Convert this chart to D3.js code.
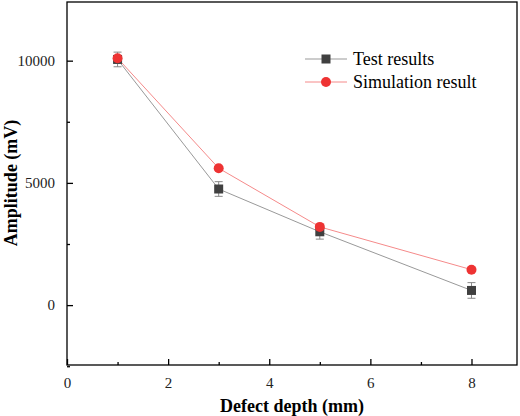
<!DOCTYPE html>
<html><head><meta charset="utf-8">
<script src="https://cdn.jsdelivr.net/npm/d3@7"></script>
<style>body{margin:0;background:#fff}text{font-family:"Liberation Serif",serif}</style>
</head><body><div id="chart"></div>
<script>
const depths = [1, 3, 5, 8];
const testValues = [10050, 4750, 3000, 600];
const testErrors = [300, 300, 300, 320];
const simValues = [10100, 5600, 3200, 1450];
const xTicks = [0, 2, 4, 6, 8];
const yTicks = [0, 5000, 10000];

const W = 520, H = 416;
const margin = { top: 2, right: 3, bottom: 51, left: 67 };
const width = W - margin.left - margin.right, height = H - margin.top - margin.bottom;

const svg = d3.select("#chart").append("svg").attr("width", W).attr("height", H)
  .append("g").attr("transform", `translate(${margin.left},${margin.top})`);

const x = d3.scaleLinear().domain([0, 8.9]).range([0, width]);
const y = d3.scaleLinear().domain([-2450, 12400]).range([height, 0]);

// frame
svg.append("rect").attr("width", width).attr("height", height)
  .attr("fill", "none").attr("stroke", "#000").attr("stroke-width", 1.3);

// axes, ticks inward
svg.append("g").attr("transform", `translate(0,${height})`)
  .call(d3.axisBottom(x).tickValues(xTicks).tickSize(-6).tickPadding(12).tickFormat(d3.format("d")));
svg.append("g").attr("transform", `translate(0,${height})`)
  .call(d3.axisBottom(x).tickValues([1, 3, 5, 7]).tickSize(-3).tickFormat(""));
svg.append("g")
  .call(d3.axisLeft(y).tickValues(yTicks).tickSize(-6).tickPadding(12).tickFormat(d3.format("d")));
svg.append("g").call(d3.axisLeft(y).tickValues([-2500, 2500, 7500]).tickSize(-3).tickFormat(""));
svg.selectAll(".domain").remove();
svg.selectAll(".tick line").attr("stroke", "#000").attr("stroke-width", 1.3);
svg.selectAll(".tick text").attr("font-size", 15).attr("fill", "#222")
  .style("font-family", "'Liberation Serif', serif");

svg.append("text").attr("x", width / 2).attr("y", height + 47).attr("text-anchor", "middle")
  .attr("font-size", 18).attr("font-weight", "bold").text("Defect depth (mm)");
svg.append("text").attr("transform", `translate(-50,${y(5000)}) rotate(-90)`).attr("text-anchor", "middle")
  .attr("font-size", 18).attr("font-weight", "bold").text("Amplitude (mV)");

const test = depths.map((d, i) => ({ x: d, y: testValues[i], e: testErrors[i] }));
const sim = depths.map((d, i) => ({ x: d, y: simValues[i] }));
const line = d3.line().x(d => x(d.x)).y(d => y(d.y));

svg.append("path").datum(test).attr("fill", "none").attr("stroke", "#999").attr("stroke-width", 1).attr("d", line);
svg.append("path").datum(sim).attr("fill", "none").attr("stroke", "#f58a8a").attr("stroke-width", 1).attr("d", line);

// error bars
test.forEach(d => {
  const g = svg.append("g").attr("stroke", "#888").attr("stroke-width", 1);
  g.append("line").attr("x1", x(d.x)).attr("x2", x(d.x)).attr("y1", y(d.y - d.e)).attr("y2", y(d.y + d.e));
  [d.y - d.e, d.y + d.e].forEach(v => g.append("line").attr("x1", x(d.x) - 4).attr("x2", x(d.x) + 4).attr("y1", y(v)).attr("y2", y(v)));
});
svg.selectAll(".sq").data(test).enter().append("rect")
  .attr("x", d => x(d.x) - 4.5).attr("y", d => y(d.y) - 4.5).attr("width", 9).attr("height", 9).attr("fill", "#404040");
svg.selectAll(".ci").data(sim).enter().append("circle")
  .attr("cx", d => x(d.x)).attr("cy", d => y(d.y)).attr("r", 5).attr("fill", "#ee3333");

// legend
const lg = svg.append("g").attr("transform", `translate(${305 - margin.left},${59 - margin.top})`);
lg.append("line").attr("x1", 0).attr("x2", 42).attr("y1", 0).attr("y2", 0).attr("stroke", "#999");
lg.append("rect").attr("x", 16.5).attr("y", -4.5).attr("width", 9).attr("height", 9).attr("fill", "#404040");
lg.append("text").attr("x", 48).attr("y", 6).attr("font-size", 18).text("Test results");
lg.append("line").attr("x1", 0).attr("x2", 42).attr("y1", 23).attr("y2", 23).attr("stroke", "#f58a8a");
lg.append("circle").attr("cx", 21).attr("cy", 23).attr("r", 5).attr("fill", "#ee3333");
lg.append("text").attr("x", 48).attr("y", 29).attr("font-size", 18).text("Simulation result");
</script></body></html>
